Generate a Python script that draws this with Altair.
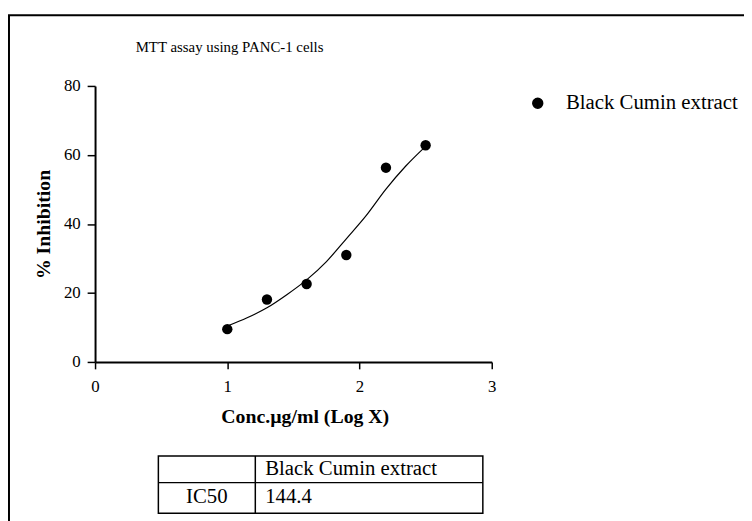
import altair as alt
import pandas as pd

# Data
log_conc = [1.0, 1.3, 1.6, 1.9, 2.2, 2.5]
inhibition = [9.5, 18.1, 22.6, 31.0, 56.3, 62.8]
series_name = "Black Cumin extract"

curve_x = [1.0, 1.15, 1.3, 1.45, 1.6, 1.75, 1.9, 2.05, 2.2, 2.35, 2.5]
curve_y = [10.4, 12.8, 15.7, 19.5, 23.8, 29.1, 35.7, 42.4, 50.1, 56.8, 62.5]

x_ticks = [0, 1, 2, 3]
y_ticks = [0, 20, 40, 60, 80]

title_text = "MTT assay using PANC-1 cells"
x_title = "Conc.\u00b5g/ml (Log X)"
y_title = "% Inhibition"
table_header = ["", "Black Cumin extract"]
table_row = ["IC50", "144.4"]

FONT = "Liberation Serif"

pts = pd.DataFrame({"x": log_conc, "y": inhibition, "series": [series_name] * len(log_conc)})
crv = pd.DataFrame({"x": curve_x, "y": curve_y})
one = pd.DataFrame({"a": [0]})

xscale = alt.Scale(domain=[0, 3], nice=False)
yscale = alt.Scale(domain=[0, 80], nice=False)

xaxis = alt.Axis(values=x_ticks, format="d", title=x_title, grid=False, domainColor="black", domainWidth=2,
                 tickColor="black", tickWidth=1.5, tickSize=7, labelFont=FONT, labelFontSize=17,
                 labelColor="black", labelPadding=10, labelFlush=False,
                 titleFont=FONT, titleFontSize=20, titleFontWeight="bold", titleColor="black",
                 titleBaseline="middle", titleAlign="center", titleX=212, titleY=55)
yaxis = alt.Axis(values=y_ticks, format="d", title=y_title, grid=False, domainColor="black", domainWidth=2,
                 tickColor="black", tickWidth=1.5, tickSize=8, labelFont=FONT, labelFontSize=17,
                 labelColor="black", labelPadding=7, labelFlush=False,
                 titleFont=FONT, titleFontSize=20, titleFontWeight="bold", titleColor="black",
                 titleAngle=270, titleBaseline="middle", titleX=-52)

points = alt.Chart(pts).mark_point(filled=True, shape="circle", size=110, opacity=1).encode(
    x=alt.X("x:Q", scale=xscale, axis=xaxis),
    y=alt.Y("y:Q", scale=yscale, axis=yaxis),
    color=alt.Color("series:N", scale=alt.Scale(range=["black"]),
                    legend=alt.Legend(orient="none", legendX=437, legendY=7, title=None,
                                      symbolType="circle", symbolSize=100, symbolFillColor="black",
                                      symbolStrokeColor="black", labelFont=FONT, labelFontSize=21,
                                      labelColor="black", labelOffset=18, labelLimit=400)),
)

line = alt.Chart(crv).mark_line(color="black", strokeWidth=1.2, interpolate="monotone").encode(
    x=alt.X("x:Q", scale=xscale), y=alt.Y("y:Q", scale=yscale)
)

border = alt.Chart(one).mark_rect(fillOpacity=0, stroke="black", strokeWidth=2).encode(
    x=alt.value(-87), x2=alt.value(700), y=alt.value(-71.5), y2=alt.value(500)
)

title = alt.Chart(one).mark_text(font=FONT, fontSize=15, color="black",
                                 align="center", baseline="middle").encode(
    x=alt.value(136), y=alt.value(-39), text=alt.value(title_text)
)

tbox = alt.Chart(one).mark_rect(fillOpacity=0, stroke="black", strokeWidth=1.5).encode(
    x=alt.value(64), x2=alt.value(392), y=alt.value(374), y2=alt.value(432)
)
tv = alt.Chart(one).mark_rule(color="black", strokeWidth=1.5).encode(
    x=alt.value(162), y=alt.value(374), y2=alt.value(432)
)
th = alt.Chart(one).mark_rule(color="black", strokeWidth=1.5).encode(
    x=alt.value(64), x2=alt.value(392), y=alt.value(401)
)
t1 = alt.Chart(one).mark_text(font=FONT, fontSize=21, color="black", align="left", baseline="middle").encode(
    x=alt.value(172), y=alt.value(387), text=alt.value(table_header[1])
)
t2 = alt.Chart(one).mark_text(font=FONT, fontSize=21, color="black", align="center", baseline="middle").encode(
    x=alt.value(113), y=alt.value(416), text=alt.value(table_row[0])
)
t3 = alt.Chart(one).mark_text(font=FONT, fontSize=21, color="black", align="left", baseline="middle").encode(
    x=alt.value(172), y=alt.value(416), text=alt.value(table_row[1])
)

chart = alt.layer(border, line, points, title, tbox, tv, th, t1, t2, t3).properties(
    width=401, height=279,
    autosize=alt.AutoSizeParams(type="none"),
    padding={"left": 88, "top": 76, "right": 255, "bottom": 158},
    background="white",
).configure_view(strokeWidth=0)

chart.save("out.html", embed_options={"renderer": "svg", "actions": False})
